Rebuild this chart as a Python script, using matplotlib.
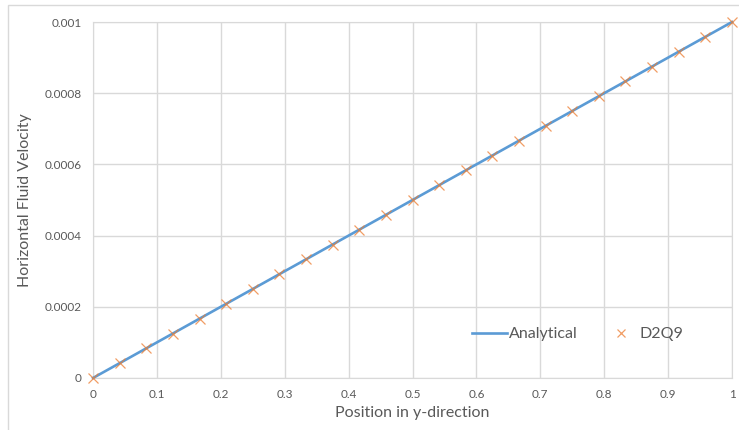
import matplotlib.pyplot as plt
from matplotlib.patches import Rectangle

# y-positions of the lattice nodes and the simulated velocities
position = [0, 0.0417, 0.0833, 0.125, 0.1667, 0.2083, 0.25, 0.2917, 0.3333,
            0.375, 0.4167, 0.4583, 0.5, 0.5417, 0.5833, 0.625, 0.6667, 0.7083,
            0.75, 0.7917, 0.8333, 0.875, 0.9167, 0.9583, 1.0]
d2q9 = [0, 0.0000417, 0.0000833, 0.000125, 0.0001667, 0.0002083, 0.00025,
        0.0002917, 0.0003333, 0.000375, 0.0004167, 0.0004583, 0.0005,
        0.0005417, 0.0005833, 0.000625, 0.0006667, 0.0007083, 0.00075,
        0.0007917, 0.0008333, 0.000875, 0.0009167, 0.0009583, 0.001]
analytical_x = [0, 0.25, 0.5, 0.75, 1.0]
analytical_y = [0, 0.00025, 0.0005, 0.00075, 0.001]

xticks = [0, 0.1, 0.2, 0.3, 0.4, 0.5, 0.6, 0.7, 0.8, 0.9, 1]
xtick_labels = ['0', '0.1', '0.2', '0.3', '0.4', '0.5', '0.6', '0.7', '0.8', '0.9', '1']
yticks = [0, 0.0002, 0.0004, 0.0006, 0.0008, 0.001]
ytick_labels = ['0', '0.0002', '0.0004', '0.0006', '0.0008', '0.001']

plt.rcParams['font.family'] = ['Lato', 'DejaVu Sans']

fig = plt.figure(figsize=(7.39, 4.30), dpi=100)
W, H = 739, 430
ax = fig.add_axes([93 / W, 1 - 378 / H, (732 - 93) / W, (378 - 22) / H])

# outer chart frame (cut by the image edges on the right and bottom)
fig.patches.append(Rectangle((8 / W, -0.05), 1.05, 1 - 5 / H + 0.05,
                             transform=fig.transFigure, fill=False,
                             edgecolor='#d9d9d9', linewidth=1))

ax.plot(analytical_x, analytical_y, color='#5B9BD5', linewidth=1.9,
        label='Analytical', zorder=3, clip_on=False)
ax.plot(position, d2q9, linestyle='none', marker='x', markersize=6.5,
        markeredgewidth=0.9, color='#ED7D31', alpha=0.75, label='D2Q9',
        zorder=4, clip_on=False)

ax.set_xlim(0, 1)
ax.set_ylim(0, 0.001)
ax.set_xticks(xticks)
ax.set_xticklabels(xtick_labels)
ax.set_yticks(yticks)
ax.set_yticklabels(ytick_labels)
ax.grid(True, color='#d9d9d9', linewidth=1)
ax.set_axisbelow(True)
for s in ax.spines.values():
    s.set_color('#d9d9d9')
ax.tick_params(length=0, labelsize=8.5, labelcolor='#595959', pad=8)

ax.set_xlabel('Position in y-direction', fontsize=11.5, color='#595959', labelpad=4)
ax.set_ylabel('Horizontal Fluid Velocity', fontsize=11.5, color='#595959', labelpad=9)

ax.legend(loc='center left', bbox_to_anchor=((472 - 93) / (732 - 93), (378 - 334) / (378 - 22)),
          frameon=False, fontsize=11.5, labelcolor='#595959', ncol=2,
          handlelength=2.2, handletextpad=0.1, columnspacing=1.6, borderaxespad=0,
          borderpad=0, markerscale=0.8)

fig.savefig('out.png', dpi=100)
